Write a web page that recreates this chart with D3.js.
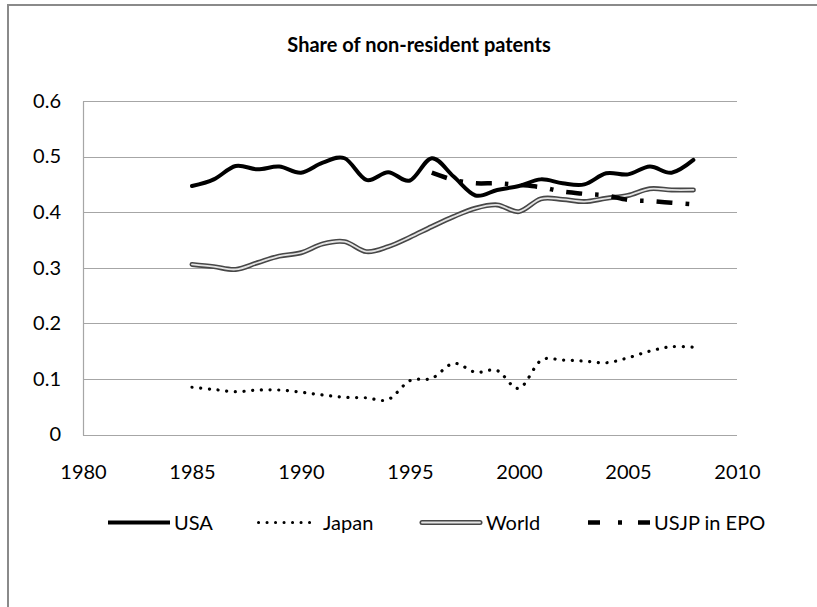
<!DOCTYPE html>
<html>
<head>
<meta charset="utf-8">
<script src="https://cdn.jsdelivr.net/npm/d3@7/dist/d3.min.js"></script>
<style>
  html, body { margin: 0; padding: 0; background: #fff; }
  svg { display: block; }
  text { font-family: Lato, "Open Sans", sans-serif; fill: #000; }
</style>
</head>
<body>
<svg id="chart" width="817" height="607"></svg>
<script>
// ---- data ----
const years = [1985,1986,1987,1988,1989,1990,1991,1992,1993,1994,1995,1996,1997,1998,1999,2000,2001,2002,2003,2004,2005,2006,2007,2008];
const usa   = [0.447,0.459,0.483,0.477,0.482,0.471,0.489,0.497,0.458,0.472,0.457,0.497,0.464,0.430,0.440,0.447,0.459,0.452,0.450,0.470,0.468,0.482,0.471,0.494];
const japan = [0.085,0.081,0.077,0.080,0.080,0.076,0.071,0.067,0.066,0.063,0.097,0.101,0.128,0.112,0.115,0.083,0.133,0.134,0.132,0.129,0.138,0.150,0.158,0.157];
const world = [0.306,0.302,0.297,0.309,0.321,0.327,0.343,0.347,0.329,0.338,0.355,0.374,0.392,0.407,0.413,0.401,0.424,0.423,0.419,0.425,0.430,0.442,0.440,0.440];
const usjpYears = [1996,1997,1998,1999,2000,2001,2002,2003,2004,2005,2006,2007,2008];
const usjp  = [0.471,0.458,0.452,0.452,0.449,0.445,0.437,0.433,0.430,0.422,0.420,0.417,0.414];
const xTicks = [1980,1985,1990,1995,2000,2005,2010];
const yTicks = [0,0.1,0.2,0.3,0.4,0.5,0.6];
const title = "Share of non-resident patents";
const seriesNames = ["USA","Japan","World","USJP in EPO"];

// ---- layout ----
const svg = d3.select("#chart");
const x = d3.scaleLinear().domain([1980, 2010]).range([83, 737]);
const y = d3.scaleLinear().domain([0, 0.6]).range([434.5, 101]);

// outer frame (cut off at right/bottom)
svg.append("rect").attr("x", 8).attr("y", 5).attr("width", 840).attr("height", 640)
  .attr("fill", "none").attr("stroke", "#8a8a8a").attr("stroke-width", 2);

// title
svg.append("text").attr("x", 419).attr("y", 52).attr("text-anchor", "middle")
  .style("font-size", "20px").style("font-weight", "bold").text(title);

// gridlines
svg.append("g").selectAll("line").data(yTicks).join("line")
  .attr("x1", x(1980)).attr("x2", x(2010))
  .attr("y1", d => Math.round(y(d)) + 0.5).attr("y2", d => Math.round(y(d)) + 0.5)
  .attr("stroke", "#a6a6a6").attr("stroke-width", 1.2);
// left axis line
svg.append("line").attr("x1", x(1980) + 0.5).attr("x2", x(1980) + 0.5)
  .attr("y1", Math.round(y(0.6)) + 0.5).attr("y2", Math.round(y(0)) + 0.5)
  .attr("stroke", "#a6a6a6").attr("stroke-width", 1.2);

// y axis labels
const yAxis = d3.axisLeft(y).tickValues(yTicks).tickSize(0).tickPadding(22)
  .tickFormat(d => d === 0 ? "0" : d3.format(".1f")(d));
svg.append("g").attr("transform", `translate(${x(1980)},0)`).call(yAxis)
  .call(g => g.select(".domain").remove())
  .selectAll("text").style("font-size", "20px").style("font-family", "Lato, sans-serif").attr("fill", "#000");

// x axis labels
const xAxis = d3.axisBottom(x).tickValues(xTicks).tickSize(0).tickPadding(30).tickFormat(d3.format("d"));
svg.append("g").attr("transform", `translate(0,${y(0)})`).call(xAxis)
  .call(g => g.select(".domain").remove())
  .selectAll("text").style("font-size", "20px").style("font-family", "Lato, sans-serif").attr("fill", "#000");

// lines
const curve = d3.curveCardinal.tension(0);
const line = d3.line().x(d => x(d[0])).y(d => y(d[1])).curve(curve);
const zip = (xs, vs) => xs.map((v, i) => [v, vs[i]]);

const g = svg.append("g").attr("fill", "none");
// USA
g.append("path").attr("d", line(zip(years, usa)))
  .attr("stroke", "#000").attr("stroke-width", 4).attr("stroke-linejoin", "round").attr("stroke-linecap", "round");
// Japan
g.append("path").attr("d", line(zip(years, japan)))
  .attr("stroke", "#000").attr("stroke-width", 3.2).attr("stroke-linecap", "round").attr("stroke-dasharray", "0.1 8.6");
// World (double line)
g.append("path").attr("d", line(zip(years, world)))
  .attr("stroke", "#474747").attr("stroke-width", 5).attr("stroke-linecap", "round").attr("stroke-linejoin", "round");
g.append("path").attr("d", line(zip(years, world)))
  .attr("stroke", "#e4e4e4").attr("stroke-width", 1.8).attr("stroke-linecap", "round").attr("stroke-linejoin", "round");
// USJP in EPO
g.append("path").attr("d", line(zip(usjpYears, usjp)))
  .attr("stroke", "#000").attr("stroke-width", 4.5).attr("stroke-dasharray", "16 13 3.5 13");

// legend
const legY = 522.5;
const legX = [108, 257, 420, 588];
const leg = svg.append("g");
seriesNames.forEach((name, i) => {
  const lx = legX[i];
  if (i === 0) {
    leg.append("line").attr("x1", lx).attr("x2", lx + 62).attr("y1", legY).attr("y2", legY)
      .attr("stroke", "#000").attr("stroke-width", 4);
  } else if (i === 1) {
    leg.append("line").attr("x1", lx + 1.5).attr("x2", lx + 54).attr("y1", legY).attr("y2", legY)
      .attr("stroke", "#000").attr("stroke-width", 3).attr("stroke-linecap", "round").attr("stroke-dasharray", "0.1 8.4");
  } else if (i === 2) {
    leg.append("line").attr("x1", lx + 2).attr("x2", lx + 60).attr("y1", legY).attr("y2", legY)
      .attr("stroke", "#474747").attr("stroke-width", 5).attr("stroke-linecap", "round");
    leg.append("line").attr("x1", lx + 2).attr("x2", lx + 60).attr("y1", legY).attr("y2", legY)
      .attr("stroke", "#e4e4e4").attr("stroke-width", 1.8).attr("stroke-linecap", "round");
  } else {
    leg.append("line").attr("x1", lx).attr("x2", lx + 62).attr("y1", legY).attr("y2", legY)
      .attr("stroke", "#000").attr("stroke-width", 4.5).attr("stroke-dasharray", "12 18 4 16 12");
  }
  const tx = i === 1 ? lx + 66 : lx + 66;
  leg.append("text").attr("x", tx).attr("y", legY).attr("dy", "0.35em")
    .style("font-size", "20px").text(name);
});
</script>
</body>
</html>
